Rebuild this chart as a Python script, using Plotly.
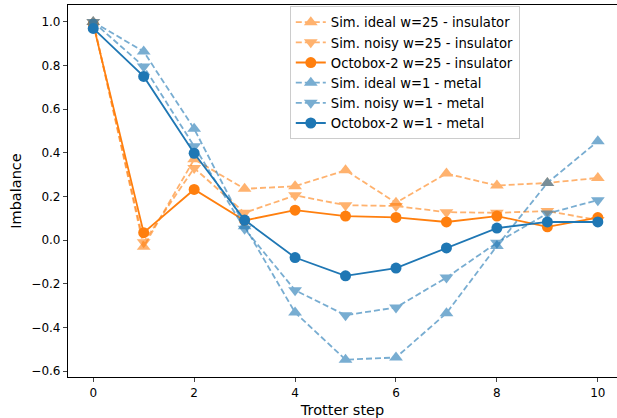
import plotly.graph_objects as go

steps = list(range(11))

ideal_w25 = [1.0, -0.03, 0.37, 0.235, 0.247, 0.32, 0.171, 0.305, 0.25, 0.262, 0.285]
noisy_w25 = [1.0, -0.01, 0.33, 0.125, 0.205, 0.16, 0.156, 0.128, 0.125, 0.133, 0.092]
octo_w25 = [0.99, 0.034, 0.232, 0.09, 0.137, 0.11, 0.104, 0.083, 0.11, 0.061, 0.103]
ideal_w1 = [1.0, 0.864, 0.51, 0.064, -0.332, -0.548, -0.538, -0.335, -0.027, 0.262, 0.453]
noisy_w1 = [1.0, 0.796, 0.43, 0.052, -0.23, -0.344, -0.309, -0.172, -0.012, 0.122, 0.183]
octo_w1 = [0.97, 0.75, 0.398, 0.092, -0.08, -0.164, -0.128, -0.036, 0.055, 0.083, 0.083]

y_ticks = [-0.6, -0.4, -0.2, 0.0, 0.2, 0.4, 0.6, 0.8, 1.0]
y_tick_labels = ["\u22120.6", "\u22120.4", "\u22120.2", "0.0", "0.2", "0.4", "0.6", "0.8", "1.0"]
x_ticks = [0, 2, 4, 6, 8, 10]

ORANGE = "#ff7f0e"
BLUE = "#1f77b4"

series = [
    ("Sim. ideal w=25 - insulator", ideal_w25, ORANGE, "triangle-up", True),
    ("Sim. noisy w=25 - insulator", noisy_w25, ORANGE, "triangle-down", True),
    ("Octobox-2 w=25 - insulator", octo_w25, ORANGE, "circle", False),
    ("Sim. ideal w=1 - metal", ideal_w1, BLUE, "triangle-up", True),
    ("Sim. noisy w=1 - metal", noisy_w1, BLUE, "triangle-down", True),
    ("Octobox-2 w=1 - metal", octo_w1, BLUE, "circle", False),
]

fig = go.Figure()
for name, vals, color, sym, sim in series:
    fig.add_trace(go.Scatter(
        x=steps, y=vals, name=name, mode="lines+markers",
        line=dict(color=color, width=1.8, dash="6px,3px" if sim else "solid"),
        marker=dict(symbol=sym, size=12 if sim else 11, color=color, line=dict(width=0)),
        opacity=0.6 if sim else 1.0,
    ))

fig.update_layout(
    width=617, height=418,
    margin=dict(l=68, r=0, t=5, b=41, autoexpand=False),
    plot_bgcolor="white", paper_bgcolor="white",
    font=dict(family="DejaVu Sans", size=12, color="black"),
    showlegend=True,
    legend=dict(
        x=0.404, y=0.997, xanchor="left", yanchor="top",
        bordercolor="#cccccc", borderwidth=1, bgcolor="rgba(255,255,255,0.8)",
        font=dict(family="DejaVu Sans", size=13.2, color="black"),
        tracegroupgap=0, itemwidth=30,
    ),
    xaxis=dict(
        range=[-0.5, 10.38], tickvals=x_ticks, ticks="outside", ticklen=4,
        showgrid=False, zeroline=False, showline=True, linecolor="black",
        linewidth=1.2, mirror=True,
        title=dict(text="Trotter step", font=dict(size=14.5), standoff=6),
    ),
    yaxis=dict(
        range=[-0.6275, 1.0775], tickvals=y_ticks, ticktext=y_tick_labels,
        ticks="outside", ticklen=4,
        showgrid=False, zeroline=False, showline=True, linecolor="black",
        linewidth=1.2,
        title=dict(text="Imbalance", font=dict(size=14.5), standoff=6),
    ),
)

fig.write_html("out.html", config={"displayModeBar": False},
               post_script="document.body.style.margin='0';document.body.style.overflow='hidden';")
